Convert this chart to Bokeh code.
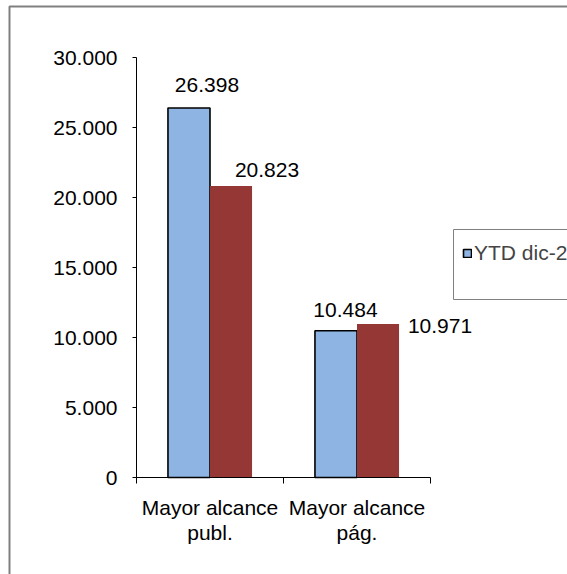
from bokeh.plotting import figure
from bokeh.models import (ColumnDataSource, Range1d, FixedTicker, Label, Legend,
                          LegendItem, BoxAnnotation)
from bokeh.transform import dodge
from bokeh.embed import file_html
from bokeh.resources import INLINE

# ---- data ----
categories = ["Mayor alcance publ.", "Mayor alcance pág."]
series_names = ["YTD dic-22", "YTD dic-21"]
ytd_dic22 = [26398, 10484]
ytd_dic21 = [20823, 10971]
y_ticks = [0, 5000, 10000, 15000, 20000, 25000, 30000]
y_tick_labels = ["0", "5.000", "10.000", "15.000", "20.000", "25.000", "30.000"]

FONT = "Liberation Sans"
BLUE = "#8EB4E3"
RED = "#953735"

def fmt(v):
    return f"{v:,}".replace(",", ".")

W, H = 567, 574
# plot area (axes) in canvas pixels
AX_L, AX_R, AX_T, AX_B = 136, 430, 57, 477
n = len(categories)
y_max = y_ticks[-1]
px_x = (AX_R - AX_L) / n
px_y = (AX_B - AX_T) / y_max

x_centers = [i + 0.5 for i in range(n)]
src = ColumnDataSource(dict(x=x_centers, a=ytd_dic22, b=ytd_dic21))

p = figure(width=W, height=H, output_backend="svg", toolbar_location=None,
           x_range=Range1d(-AX_L / px_x, (W - AX_L) / px_x),
           y_range=Range1d(-(H - AX_B) / px_y, AX_B / px_y),
           min_border=0)
p.outline_line_color = None
p.xgrid.grid_line_color = None
p.ygrid.grid_line_color = None
p.background_fill_color = "white"
p.border_fill_color = "white"

BW = 0.286
r_blue = p.vbar(x=dodge("x", -BW / 2, range=p.x_range), top="a", width=BW,
                source=src, fill_color=BLUE, line_color="black", line_width=1.6)
r_red = p.vbar(x=dodge("x", BW / 2, range=p.x_range), top="b", width=BW,
               source=src, fill_color=RED, line_color=None)

# value labels
offsets_a = [(18, 23), (9.5, 21)]
offsets_b = [(36, 16), (62, -2)]
for i, xc in enumerate(x_centers):
    for val, dxc, (ox, oy) in ((ytd_dic22[i], -BW / 2, offsets_a[i]),
                               (ytd_dic21[i], BW / 2, offsets_b[i])):
        p.add_layout(Label(x=xc + dxc, y=val, text=fmt(val), x_offset=ox, y_offset=oy,
                           text_align="center", text_baseline="middle",
                           text_font=FONT, text_font_size="21px", text_color="black"))

# y axis
yax = p.yaxis[0]
yax.fixed_location = 0
yax.bounds = (0, y_max)
yax.ticker = FixedTicker(ticks=y_ticks, minor_ticks=[])
yax.major_label_overrides = {t: l for t, l in zip(y_ticks, y_tick_labels)}
yax.major_label_text_font = FONT
yax.major_label_text_font_size = "21px"
yax.major_label_text_color = "black"
yax.major_tick_in = 0
yax.major_tick_out = 4
yax.minor_tick_line_color = None
yax.major_label_standoff = 15
yax.axis_line_color = "black"
yax.major_tick_line_color = "black"

# x axis
xax = p.xaxis[0]
xax.fixed_location = 0
xax.bounds = (0, n)
xax.ticker = FixedTicker(ticks=x_centers, minor_ticks=list(range(n + 1)))
xax.major_label_overrides = {xc: "\n".join(c.rsplit(" ", 1)) for xc, c in zip(x_centers, categories)}
xax.major_label_text_font = FONT
xax.major_label_text_font_size = "21px"
xax.major_label_text_color = "black"
xax.major_label_text_line_height = 1.1
xax.major_tick_in = 0
xax.major_tick_out = 0
xax.minor_tick_in = 0
xax.minor_tick_out = 6
xax.minor_tick_line_color = "black"
xax.major_label_standoff = 12
xax.axis_line_color = "black"

# outer chart border
p.add_layout(BoxAnnotation(left=9, right=W + 50, top=6, bottom=H + 50,
                           left_units="canvas", right_units="canvas",
                           top_units="canvas", bottom_units="canvas",
                           fill_alpha=0, line_color="#808080", line_alpha=1.0,
                           line_width=2))
# legend box
p.add_layout(BoxAnnotation(left=453, right=W + 50, top=229, bottom=299,
                           left_units="canvas", right_units="canvas",
                           top_units="canvas", bottom_units="canvas",
                           fill_alpha=0, line_color="#808080", line_alpha=1.0,
                           line_width=1))

legend = Legend(items=[LegendItem(label=series_names[0], renderers=[r_blue])],
                location=(462, H - 265), padding=0, margin=0, spacing=0,
                glyph_width=10, glyph_height=10, label_standoff=2, label_height=22,
                label_text_font=FONT, label_text_font_size="21px",
                border_line_alpha=0, background_fill_alpha=0)
p.add_layout(legend)

open("out.html", "w").write(file_html(p, INLINE))
